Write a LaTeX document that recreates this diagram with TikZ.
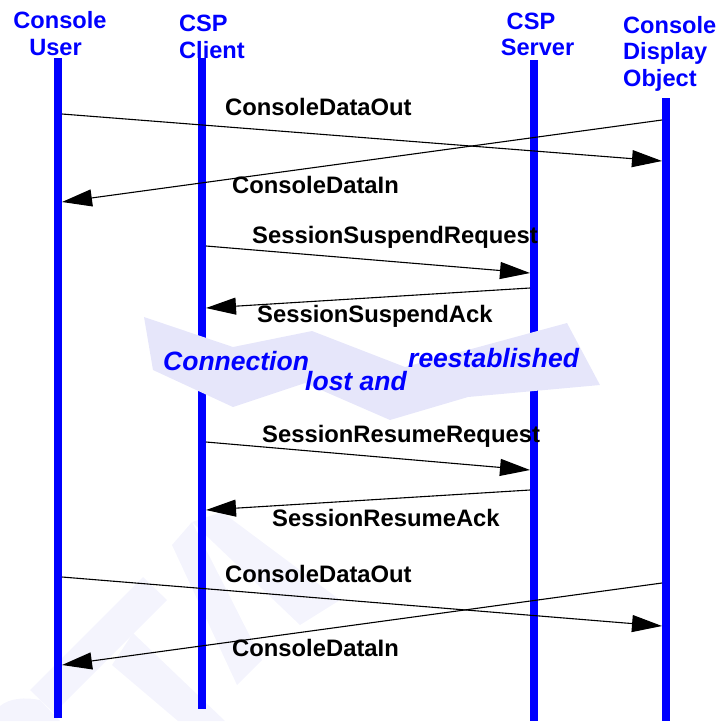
\documentclass[tikz,border=0pt]{standalone}
\usepackage{fontspec}
\setmainfont{Liberation Sans}
\usetikzlibrary{arrows.meta}
\definecolor{lane}{RGB}{0,0,255}
\definecolor{band}{RGB}{230,230,250}
\definecolor{wm}{RGB}{244,244,253}
\begin{document}
\begin{tikzpicture}[x=1pt,y=-1pt,
  lifeline/.style={line width=8pt, draw=lane},
  hdr/.style={font=\bfseries\fontsize{23.6}{27}\selectfont, text=lane, inner sep=0pt, anchor=base west},
  hdrc/.style={hdr, anchor=base},
  msglbl/.style={font=\bfseries\fontsize{23.8}{27}\selectfont, inner sep=0pt, anchor=base west},
  msg/.style={line width=1.1pt, -{Triangle[length=30pt,width=17pt]}},
  note/.style={font=\bfseries\itshape\fontsize{26.5}{30}\selectfont, text=lane, inner sep=0pt, anchor=base west}]
\useasboundingbox (0,0) rectangle (722,721);

% faint watermark shapes
\fill[wm] (30,690) -- (143,577) -- (167,600) -- (54,713) -- cycle;
\fill[wm] (112,665) -- (133,633) -- (225,721) -- (178,721) -- cycle;
\fill[wm] (0,706) .. controls (10,698) and (25,697) .. (40,700) -- (60,721) -- (0,721) -- cycle;
\fill[wm] (172,545) -- (192,522) -- (262,660) -- (237,685) -- cycle;
\fill[wm] (192,522) -- (222,512) -- (340,600) -- (300,625) -- cycle;

% lifelines
\coordinate (userT) at (58,58);   \coordinate (userB) at (58,718);
\coordinate (cliT) at (202,58);   \coordinate (cliB) at (202,709);
\coordinate (srvT) at (534,60);   \coordinate (srvB) at (534,721);
\coordinate (dspT) at (666,98);   \coordinate (dspB) at (666,721);
\draw[lifeline] (userT) -- (userB);
\draw[lifeline] (cliT) -- (cliB);
\draw[lifeline] (srvT) -- (srvB);
\draw[lifeline] (dspT) -- (dspB);

% headers
\node[hdrc] (h1a) at (60,28) {Console};
\node[hdrc] (h1b) at (55.5,55) {User};
\node[hdr] (h2a) at (179,31) {CSP};
\node[hdr] (h2b) at (179,58) {Client};
\node[hdrc] (h3a) at (531,29) {CSP};
\node[hdrc] (h3b) at (537.5,55) {Server};
\node[hdr] (h4a) at (623,33) {Console};
\node[hdr] (h4b) at (623,59) {Display};
\node[hdr] (h4c) at (623,86) {Object};

% connection lost band
\fill[band] (144,317) -- (233,347) -- (312,331) -- (405,367) -- (567,323) -- (600,385)
  -- (468,397) -- (390,420) -- (305,383) -- (233,407) -- (153,370) -- cycle;
\node[note] (n1) at (163,370) {Connection};
\node[note] (n2) at (305,390) {lost and};
\node[note] (n3) at (408,367) {reestablished};

% message end points
\coordinate (m1s) at (62,114);  \coordinate (m1e) at (662,161);
\coordinate (m2s) at (662,120); \coordinate (m2e) at (62,202);
\coordinate (m3s) at (206,246); \coordinate (m3e) at (530,273);
\coordinate (m4s) at (530,288); \coordinate (m4e) at (206,308);
\coordinate (m5s) at (206,442); \coordinate (m5e) at (530,470);
\coordinate (m6s) at (530,490); \coordinate (m6e) at (206,510);
\coordinate (m7s) at (62,577);  \coordinate (m7e) at (662,626);
\coordinate (m8s) at (662,583); \coordinate (m8e) at (62,665);

\draw[msg] (m1s) -- (m1e);
\draw[msg] (m2s) -- (m2e);
\draw[msg] (m3s) -- (m3e);
\draw[msg] (m4s) -- (m4e);
\draw[msg] (m5s) -- (m5e);
\draw[msg] (m6s) -- (m6e);
\draw[msg] (m7s) -- (m7e);
\draw[msg] (m8s) -- (m8e);

% labels
\node[msglbl] (l1) at (225,115) {ConsoleDataOut};
\node[msglbl] (l2) at (232,193) {ConsoleDataIn};
\node[msglbl] (l3) at (252,243) {SessionSuspendRequest};
\node[msglbl] (l4) at (257,322) {SessionSuspendAck};
\node[msglbl] (l5) at (262,442) {SessionResumeRequest};
\node[msglbl] (l6) at (272,526) {SessionResumeAck};
\node[msglbl] (l7) at (225,582) {ConsoleDataOut};
\node[msglbl] (l8) at (232,656) {ConsoleDataIn};
\end{tikzpicture}
\end{document}
